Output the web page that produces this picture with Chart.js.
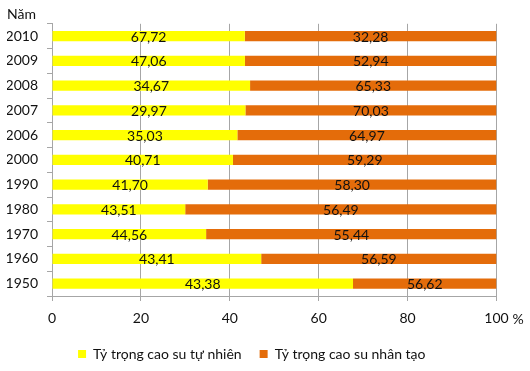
<!DOCTYPE html>
<html>
<head>
<meta charset="utf-8">
<script src="https://cdn.jsdelivr.net/npm/chart.js@4"></script>
<style>
  html, body { margin: 0; padding: 0; background: #fff; }
  #wrap { width: 530px; height: 371px; }
</style>
</head>
<body>
<div id="wrap"><canvas id="rubberChart"></canvas></div>
<script>
const years = ["2010","2009","2008","2007","2006","2000","1990","1980","1970","1960","1950"];

// bar lengths as drawn in the picture (%)
const naturalShare = [43.38, 43.41, 44.56, 43.51, 41.70, 40.71, 35.03, 29.97, 34.67, 47.06, 67.72];
const syntheticShare = [56.62, 56.59, 55.44, 56.49, 58.30, 59.29, 64.97, 70.03, 65.33, 52.94, 32.28];

// numbers printed on the bars
const naturalLabels = [67.72, 47.06, 34.67, 29.97, 35.03, 40.71, 41.70, 43.51, 44.56, 43.41, 43.38];
const syntheticLabels = [32.28, 52.94, 65.33, 70.03, 64.97, 59.29, 58.30, 56.49, 55.44, 56.59, 56.62];

const xTicks = [0, 20, 40, 60, 80, 100];

const FONT = "Lato";
const INK = "#111";
const GRID = "#a6a6a6";

const fmt = v => v.toFixed(2).replace(".", ",");

// draws the printed numbers in the middle of each segment + the "%" after 100
const barText = {
  id: "barText",
  afterDatasetsDraw(chart) {
    const ctx = chart.ctx;
    const texts = [naturalLabels, syntheticLabels];
    ctx.save();
    ctx.font = `14px ${FONT}`;
    ctx.fillStyle = INK;
    ctx.textAlign = "center";
    ctx.textBaseline = "middle";
    chart.data.datasets.forEach((ds, i) => {
      chart.getDatasetMeta(i).data.forEach((bar, j) => {
        ctx.fillText(fmt(texts[i][j]), (bar.x + bar.base) / 2, bar.y + 1);
      });
    });
    const xs = chart.scales.x;
    ctx.textAlign = "left";
    ctx.fillText("%", xs.getPixelForValue(100) + 16, xs.top + 23);
    ctx.restore();
  }
};

new Chart(document.getElementById("rubberChart"), {
  type: "bar",
  data: {
    labels: years,
    datasets: [
      {
        label: "Tỷ trọng cao su tự nhiên",
        data: naturalShare,
        backgroundColor: "#ffff00"
      },
      {
        label: "Tỷ trọng cao su nhân tạo",
        data: syntheticShare,
        backgroundColor: "#e46c0a"
      }
    ]
  },
  options: {
    indexAxis: "y",
    responsive: true,
    maintainAspectRatio: false,
    animation: false,
    barPercentage: 0.41,
    categoryPercentage: 1,
    layout: { padding: { left: 7, right: 33.5, top: 0, bottom: 0 } },
    scales: {
      x: {
        stacked: true,
        min: 0,
        max: 100,
        afterBuildTicks: s => { s.ticks = xTicks.map(v => ({ value: v })); },
        afterFit: s => { s.height = 33; },
        grid: { color: GRID, tickLength: 5, drawOnChartArea: true },
        border: { color: GRID },
        ticks: { color: INK, font: { family: FONT, size: 14 }, padding: 9, maxRotation: 0 }
      },
      y: {
        stacked: true,
        afterFit: s => { s.width = 45; },
        grid: { color: GRID, tickLength: 5, drawOnChartArea: false },
        border: { color: GRID },
        ticks: { color: INK, font: { family: FONT, size: 14 }, padding: 9 }
      }
    },
    plugins: {
      title: {
        display: true,
        text: "Năm",
        align: "start",
        color: INK,
        font: { family: FONT, size: 14, weight: "normal" },
        padding: { top: 6, bottom: 1 }
      },
      legend: {
        position: "bottom",
        maxHeight: 43,
        labels: {
          color: INK,
          boxWidth: 8,
          boxHeight: 8,
          padding: 18,
          font: { family: FONT, size: 14 }
        }
      },
      tooltip: { enabled: false }
    }
  },
  plugins: [barText]
});
</script>
</body>
</html>
